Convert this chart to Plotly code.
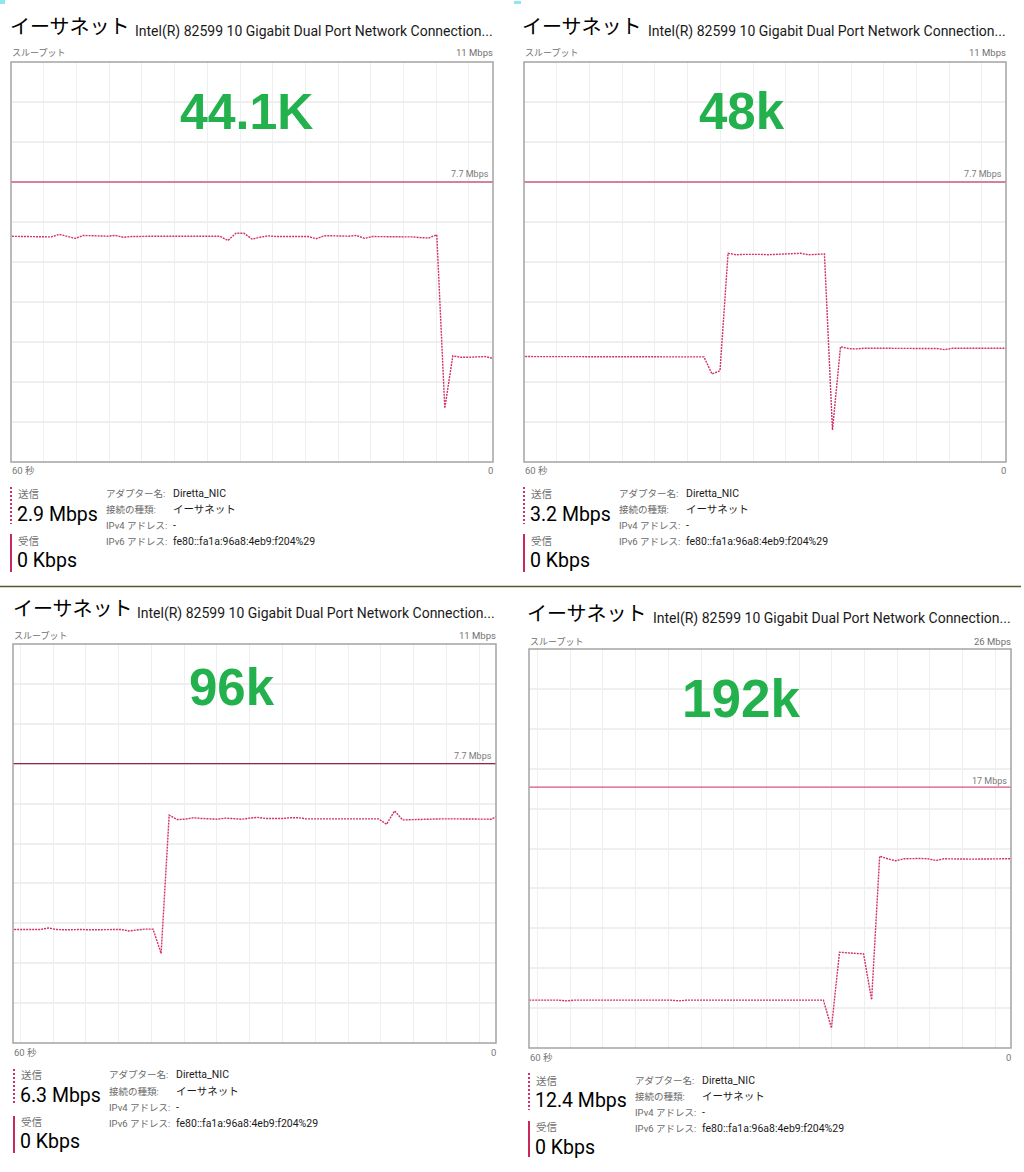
import plotly.graph_objects as go

W, H = 1024, 1172

# ---------------- data ----------------
panel_titles = ["イーサネット"] * 4
adapter_desc = "Intel(R) 82599 10 Gigabit Dual Port Network Connection..."
sample_rates = ["44.1K", "48k", "96k", "192k"]
scale_max = [11, 11, 11, 26]            # Mbps, top of graph
scale_ref = [7.7, 7.7, 7.7, 17]         # Mbps, reference line
scale_max_labels = ["11 Mbps", "11 Mbps", "11 Mbps", "26 Mbps"]
scale_ref_labels = ["7.7 Mbps", "7.7 Mbps", "7.7 Mbps", "17 Mbps"]
send_labels = ["2.9 Mbps", "3.2 Mbps", "6.3 Mbps", "12.4 Mbps"]
recv_labels = ["0 Kbps"] * 4
sample_phase = [0.0, 0.4, 0.4, 0.65]    # sub-second offset of the 1 s samples
grid_phase = [3.0, 3.0, 2.1, 1.95]      # scroll offset of vertical grid (s)

detail_keys = ["アダプター名:", "接続の種類:", "IPv4 アドレス:", "IPv6 アドレス:"]
detail_vals = ["Diretta_NIC", "イーサネット", "-", "fe80::fa1a:96a8:4eb9:f204%29"]

# send throughput, Mbps, one sample per second (oldest first, 62 samples)
send_441 = [6.21, 6.21, 6.21, 6.21, 6.20, 6.20, 6.19, 6.26, 6.20, 6.15, 6.23,
            6.22, 6.20, 6.21, 6.23, 6.18, 6.20, 6.21, 6.21, 6.21, 6.21, 6.21,
            6.21, 6.21, 6.21, 6.21, 6.21, 6.21, 6.09, 6.29, 6.29, 6.13, 6.18,
            6.22, 6.20, 6.20, 6.22, 6.22, 6.20, 6.14, 6.22, 6.22, 6.21, 6.21,
            6.23, 6.15, 6.20, 6.20, 6.20, 6.20, 6.20, 6.19, 6.17, 6.16, 6.25,
            1.48, 2.92, 2.88, 2.88, 2.88, 2.90, 2.85]
send_48 = [2.90, 2.90, 2.89, 2.90, 2.91, 2.90, 2.89, 2.89, 2.90, 2.90, 2.89,
           2.89, 2.90, 2.90, 2.89, 2.90, 2.90, 2.89, 2.89, 2.90, 2.90, 2.89,
           2.89, 2.89, 2.42, 2.51, 5.74, 5.70, 5.71, 5.72, 5.71, 5.70, 5.71,
           5.72, 5.71, 5.74, 5.70, 5.72, 5.72, 0.88, 3.17, 3.12, 3.11, 3.13,
           3.13, 3.12, 3.13, 3.13, 3.12, 3.13, 3.13, 3.14, 3.12, 3.09, 3.13,
           3.13, 3.13, 3.12, 3.13, 3.13, 3.12, 3.13]
send_96 = [3.13, 3.13, 3.12, 3.12, 3.13, 3.17, 3.13, 3.12, 3.13, 3.13, 3.12,
           3.12, 3.13, 3.13, 3.13, 3.09, 3.12, 3.14, 3.14, 2.47, 6.28, 6.16,
           6.17, 6.21, 6.19, 6.18, 6.17, 6.20, 6.19, 6.17, 6.20, 6.22, 6.19,
           6.18, 6.19, 6.21, 6.21, 6.18, 6.18, 6.19, 6.20, 6.19, 6.19, 6.19,
           6.18, 6.19, 6.18, 6.03, 6.40, 6.15, 6.16, 6.17, 6.18, 6.19, 6.18,
           6.18, 6.18, 6.18, 6.17, 6.17, 6.17, 6.28]
send_192 = [3.12, 3.12, 3.12, 3.12, 3.12, 3.07, 3.12, 3.12, 3.12, 3.12, 3.12,
            3.12, 3.12, 3.12, 3.12, 3.12, 3.12, 3.12, 3.12, 3.07, 3.12, 3.12,
            3.12, 3.12, 3.12, 3.12, 3.12, 3.12, 3.12, 3.12, 3.12, 3.12, 3.12,
            3.12, 3.12, 3.09, 3.09, 3.12, 1.30, 6.24, 6.20, 6.17, 6.13, 3.14,
            12.50, 12.33, 12.20, 12.33, 12.35, 12.35, 12.33, 12.22, 12.33,
            12.31, 12.31, 12.31, 12.31, 12.31, 12.31, 12.31, 12.31, 12.34]
send_series = [send_441, send_48, send_96, send_192]

# ---------------- layout (pixels) ----------------
boxes = [  # left, top, right, bottom of each graph area
    (11, 62, 493, 462),
    (524, 62, 1006, 462),
    (13, 644, 496, 1043),
    (529, 649, 1011, 1048),
]
GREEN = "#22b14c"
SEND = "#d2306a"
GRID = "#efefef"
ref_styles = [("#d7809d", 2), ("#d7809d", 2), ("#8e2a4c", 1.2), ("#e0507c", 1.4)]

LAT = "Roboto, 'Noto Sans CJK JP', sans-serif"
JP = "'Noto Sans CJK JP', sans-serif"
BIG = "'Liberation Sans', Arial, sans-serif"

fig = go.Figure()
annotations = []
shapes = []


def px_x(x):
    return x / W


def px_y(y):
    return 1 - y / H


def txt(x, y, s, size, color="#000", family=LAT, anchor="left", weight=None):
    f = dict(size=size, color=color, family=family)
    if weight:
        f["weight"] = weight
    annotations.append(dict(x=px_x(x), y=px_y(y), xref="paper", yref="paper",
                            text=s, showarrow=False, xanchor=anchor,
                            yanchor="middle", font=f, borderpad=0))


hdr = [
    dict(tx=9, ty=25, dx=134, dy=32, sy=53, my=53, lx=11, ly=[487, 524, 534, 572],
         sx=17, s1=493, s2=514, r1=540, r2=560, kx=105, vx=172, rows=[493, 509, 525, 541],
         cap=(246, 112, 50), refy=174, ty0=470),
    dict(tx=521, ty=25, dx=647, dy=32, sy=53, my=53, lx=524, ly=[487, 524, 534, 572],
         sx=530, s1=493, s2=514, r1=540, r2=560, kx=618, vx=685, rows=[493, 509, 525, 541],
         cap=(742, 112, 51), refy=174, ty0=470),
    dict(tx=12, ty=607, dx=136, dy=613, sy=635, my=635, lx=14, ly=[1069, 1105, 1116, 1153],
         sx=20, s1=1074, s2=1095, r1=1121, r2=1141, kx=108, vx=175, rows=[1074, 1091, 1107, 1123],
         cap=(232, 687, 51), refy=756, ty0=1052),
    dict(tx=526, ty=612, dx=652, dy=618, sy=641, my=641, lx=529, ly=[1073, 1110, 1121, 1157],
         sx=535, s1=1080, s2=1100, r1=1126, r2=1147, kx=634, vx=701, rows=[1080, 1096, 1112, 1128],
         cap=(741, 698, 53), refy=781, ty0=1057),
]

for i in range(4):
    L, T, R, B = boxes[i]
    n = i + 1
    xa = "xaxis" if n == 1 else f"xaxis{n}"
    ya = "yaxis" if n == 1 else f"yaxis{n}"
    xr = "x" if n == 1 else f"x{n}"
    yr = "y" if n == 1 else f"y{n}"

    gt = []
    g = grid_phase[i]
    while g < 60:
        gt.append(g)
        g += 4.07

    fig.layout[xa] = dict(domain=[px_x(L), px_x(R)], range=[60, 0], anchor=yr,
                          showgrid=True, gridcolor=GRID, gridwidth=1.2,
                          tickmode="array", tickvals=gt, showticklabels=False,
                          zeroline=False, showline=False, ticks="", fixedrange=True)
    fig.layout[ya] = dict(domain=[px_y(B), px_y(T)], range=[0, scale_max[i]],
                          anchor=xr, showgrid=True, gridcolor=GRID,
                          gridwidth=1.8, tick0=0, dtick=scale_max[i] / 10,
                          showticklabels=False, zeroline=False, showline=False,
                          ticks="", fixedrange=True)

    vals = send_series[i]
    ph = sample_phase[i]
    times = [60 - (j - 1 + ph) for j in range(len(vals))]
    fig.add_trace(go.Scatter(x=times, y=vals, xaxis=xr, yaxis=yr, mode="lines",
                             line=dict(color=SEND, width=1.4, dash="2px,1px"),
                             hoverinfo="skip", showlegend=False))

    rc, rw = ref_styles[i]
    shapes.append(dict(type="line", xref=f"{xr} domain", yref=yr, x0=0, x1=1,
                       y0=scale_ref[i], y1=scale_ref[i],
                       line=dict(color=rc, width=rw)))
    shapes.append(dict(type="rect", xref="paper", yref="paper",
                       x0=px_x(L), x1=px_x(R), y0=px_y(B), y1=px_y(T),
                       line=dict(color="#a4a4a4", width=1.5)))

    h = hdr[i]
    txt(h["tx"], h["ty"], panel_titles[i], 20, "#000", JP)
    txt(h["dx"], h["dy"], adapter_desc, 14, "#1a1a1a", LAT)
    txt(L, h["sy"], "スループット", 9, "#707070", JP)
    txt(R + 1, h["my"], scale_max_labels[i], 9.5, "#707070", LAT, anchor="right")
    txt(R - 3, h["refy"], scale_ref_labels[i], 9, "#7a7a7a", LAT, anchor="right")
    txt(L, h["ty0"], "60 秒", 9.5, "#777", LAT)
    txt(R + 1, h["ty0"], "0", 9.5, "#777", LAT, anchor="right")

    cx, cy, cs = h["cap"]
    txt(cx, cy, sample_rates[i], cs, GREEN, BIG, anchor="center", weight="bold")

    ly = h["ly"]
    shapes.append(dict(type="line", xref="paper", yref="paper",
                       x0=px_x(h["lx"]), x1=px_x(h["lx"]), y0=px_y(ly[0]), y1=px_y(ly[1]),
                       line=dict(color=SEND, width=2, dash="2px,2px")))
    shapes.append(dict(type="line", xref="paper", yref="paper",
                       x0=px_x(h["lx"]), x1=px_x(h["lx"]), y0=px_y(ly[2]), y1=px_y(ly[3]),
                       line=dict(color="#c8285a", width=2)))
    txt(h["sx"], h["s1"], "送信", 10.5, "#707070", JP)
    txt(h["sx"] - 1, h["s2"], send_labels[i], 19.5, "#000", LAT)
    txt(h["sx"], h["r1"], "受信", 10.5, "#707070", JP)
    txt(h["sx"] - 1, h["r2"], recv_labels[i], 19.5, "#000", LAT)

    for k in range(4):
        txt(h["kx"], h["rows"][k], detail_keys[k], 9.5, "#6a6a6a", LAT)
        txt(h["vx"], h["rows"][k], detail_vals[k], 10.5, "#1a1a1a", LAT)

shapes.append(dict(type="line", xref="paper", yref="paper", x0=0, x1=px_x(1021),
                   y0=px_y(586.5), y1=px_y(586.5), line=dict(color="#4e5c30", width=1.5)))
shapes.append(dict(type="rect", xref="paper", yref="paper", x0=0, x1=px_x(5),
                   y0=px_y(4), y1=px_y(0), line=dict(width=0), fillcolor="#8ee6f2"))
shapes.append(dict(type="rect", xref="paper", yref="paper", x0=px_x(514), x1=px_x(521),
                   y0=px_y(4), y1=px_y(1), line=dict(width=0), fillcolor="#8ee6f2"))

fig.update_layout(width=W, height=H, margin=dict(l=0, r=0, t=0, b=0),
                  paper_bgcolor="white", plot_bgcolor="white",
                  annotations=annotations, shapes=shapes, showlegend=False)

fig.write_html("out.html", config={"displayModeBar": False},
               post_script="document.body.style.margin='0';document.body.style.padding='0';")
